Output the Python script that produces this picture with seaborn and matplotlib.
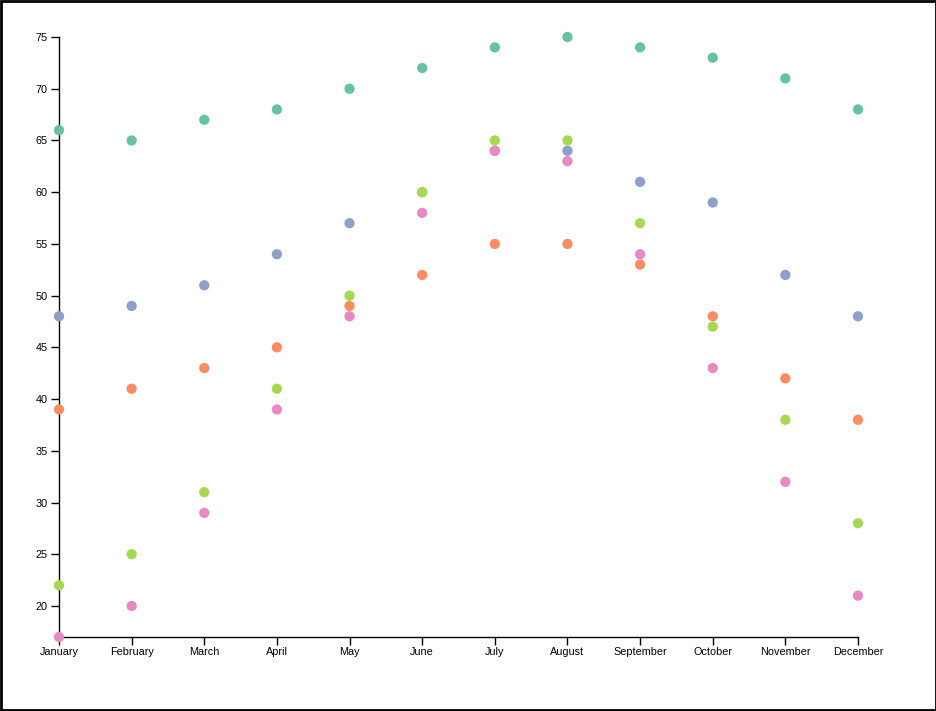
import matplotlib
matplotlib.use("Agg")
import matplotlib.pyplot as plt
import seaborn as sns
import pandas as pd
from matplotlib.patches import Rectangle

# Dữ liệu
months = ["January", "February", "March", "April", "May", "June",
          "July", "August", "September", "October", "November", "December"]
series_names = ["A", "B", "C", "D", "E"]
series_a = [66, 65, 67, 68, 70, 72, 74, 75, 74, 73, 71, 68]
series_b = [39, 41, 43, 45, 49, 52, 55, 55, 53, 48, 42, 38]
series_c = [48, 49, 51, 54, 57, 60, 64, 64, 61, 59, 52, 48]
series_d = [17, 20, 29, 39, 48, 58, 64, 63, 54, 43, 32, 21]
series_e = [22, 25, 31, 41, 50, 60, 65, 65, 57, 47, 38, 28]
y_ticks = [20, 25, 30, 35, 40, 45, 50, 55, 60, 65, 70, 75]

rows = []
for name, vals in zip(series_names, [series_a, series_b, series_c, series_d, series_e]):
    for m, v in zip(months, vals):
        rows.append({"Month": m, "Value": v, "Series": name})
df = pd.DataFrame(rows)

sns.set_style("white")
plt.rcParams["font.family"] = ["Liberation Sans", "DejaVu Sans"]

fig = plt.figure(figsize=(9.37, 7.11), dpi=100)
ax = fig.add_axes([59 / 937, (711 - 637) / 711, (858 - 59) / 937, (637 - 37) / 711])

sns.scatterplot(data=df, x="Month", y="Value", hue="Series",
                palette="Set2", s=55, edgecolor="none", legend=False,
                ax=ax, clip_on=False, zorder=3)

ax.set_xlim(0, len(months) - 1)
ax.set_ylim(min(min(series_d), min(series_e)), 75)
ax.set_yticks(y_ticks)
ax.set_xticks(range(len(months)))
ax.set_xticklabels(months)
ax.set_xlabel("")
ax.set_ylabel("")
ax.tick_params(axis="both", labelsize=7.8, length=6, width=1, color="black",
               labelcolor="black", left=True, bottom=True)
ax.tick_params(axis="x", pad=1)
ax.tick_params(axis="y", pad=2)
for side in ["top", "right"]:
    ax.spines[side].set_visible(False)
for side in ["left", "bottom"]:
    ax.spines[side].set_color("black")
    ax.spines[side].set_linewidth(1)

fig.patches.append(Rectangle((0.001, 0.0015), 0.998, 0.997, transform=fig.transFigure,
                             fill=False, edgecolor="black", linewidth=2))

fig.savefig("out.png", dpi=100)
